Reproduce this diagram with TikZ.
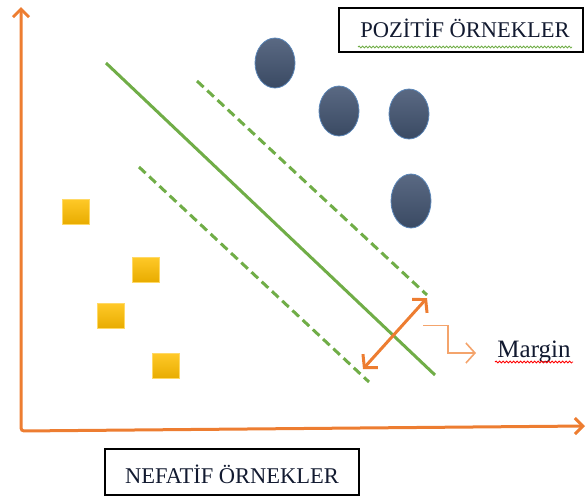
\documentclass[tikz,border=0pt]{standalone}
\usepackage{fontspec}
\setmainfont{Liberation Serif}
\usetikzlibrary{arrows.meta,decorations.pathmorphing,shapes.geometric}

\definecolor{axisorange}{HTML}{ED7D31}
\definecolor{lightorange}{HTML}{F4A46C}
\definecolor{svgreen}{HTML}{70AD47}
\definecolor{sqtop}{HTML}{FFC928}
\definecolor{sqbot}{HTML}{E8AC00}
\definecolor{sqedge}{HTML}{FFD966}
\definecolor{dottop}{HTML}{5A6983}
\definecolor{dotbot}{HTML}{3A4A63}
\definecolor{dotedge}{HTML}{5B86B8}
\definecolor{inkblue}{HTML}{121A30}

\tikzset{
  axis/.style={draw=axisorange, line width=3pt, rounded corners=3pt,
    {Straight Barb[length=8pt,width=16pt,line width=3pt]}-{Straight Barb[length=8pt,width=16pt,line width=3pt]}},
  negsample/.style={rectangle, minimum width=27pt, minimum height=25pt, inner sep=0pt,
    draw=sqedge, line width=0.8pt, top color=sqtop, bottom color=sqbot},
  possample/.style={ellipse, minimum width=40pt, minimum height=50pt, inner sep=0pt,
    draw=dotedge, line width=0.8pt, top color=dottop, bottom color=dotbot},
  hyperplane/.style={draw=svgreen, line width=3pt},
  marginline/.style={draw=svgreen, line width=3pt, dash pattern=on 9pt off 5pt},
  marginarrow/.style={draw=axisorange, line width=3pt,
    {Straight Barb[length=9pt,width=20pt,line width=3pt]}-{Straight Barb[length=9pt,width=20pt,line width=3pt]}},
  pointer/.style={draw=lightorange, line width=1.6pt,
    -{Straight Barb[length=9pt,width=20pt,line width=1.6pt]}},
  labelbox/.style={draw=black, line width=1.3pt, inner sep=0pt},
  labeltext/.style={anchor=base, text=inkblue, inner sep=0pt},
  squiggle/.style={line width=0.8pt, decorate, decoration={snake, amplitude=1pt, segment length=3.5pt}}
}

\begin{document}
\begin{tikzpicture}[x=1pt,y=-1pt]
  \useasboundingbox (0,0) rectangle (586,498);

  % axes
  \coordinate (ytop) at (21,7);
  \coordinate (origin) at (21,431);
  \coordinate (xend) at (585,426);
  \draw[axis] (ytop) -- (origin) -- (xend);

  % negative samples
  \node[negsample] (n1) at (75.5,211.5) {};
  \node[negsample] (n2) at (145.5,269.5) {};
  \node[negsample] (n3) at (111,316) {};
  \node[negsample] (n4) at (165.5,366) {};

  % positive samples
  \node[possample] (p1) at (275,63) {};
  \node[possample] (p2) at (339,111) {};
  \node[possample] (p3) at (409,114) {};
  \node[possample, minimum height=54pt] (p4) at (411,201) {};

  % separating hyperplane and margin boundaries
  \coordinate (h1) at (106,63);
  \coordinate (h2) at (435,375);
  \coordinate (u1) at (197,81);
  \coordinate (u2) at (427,295);
  \coordinate (l1) at (139,167);
  \coordinate (l2) at (369,382);
  \draw[hyperplane] (h1) -- (h2);
  \draw[marginline] (u1) -- (u2);
  \draw[marginline] (l1) -- (l2);

  % margin width
  \coordinate (ma) at (363,369);
  \coordinate (mb) at (427,298);
  \draw[marginarrow] (ma) -- (mb);

  % pointer to the margin label
  \coordinate (q1) at (423,325.5);
  \coordinate (q2) at (448,325.5);
  \coordinate (q3) at (448,353);
  \coordinate (q4) at (476,353);
  \draw[pointer] (q1) -- (q2) -- (q3) -- (q4);

  \node[labeltext, font=\fontsize{25}{29}\selectfont] (mlabel) at (534,357) {Margin};
  \draw[red, squiggle] (495,362) -- (573,362);

  % class labels
  \node[labelbox, minimum width=244pt, minimum height=44pt] (pos) at (461,30) {};
  \node[labeltext, font=\fontsize{22.5}{26}\selectfont] (postext) at (465,37) {POZİTİF  ÖRNEKLER};
  \draw[svgreen, squiggle] (358,47) -- (572,47);

  \node[labelbox, minimum width=254pt, minimum height=46pt] (neg) at (232,472) {};
  \node[labeltext, font=\fontsize{22.5}{26}\selectfont] (negtext) at (232,483) {NEFATİF ÖRNEKLER};
\end{tikzpicture}
\end{document}
